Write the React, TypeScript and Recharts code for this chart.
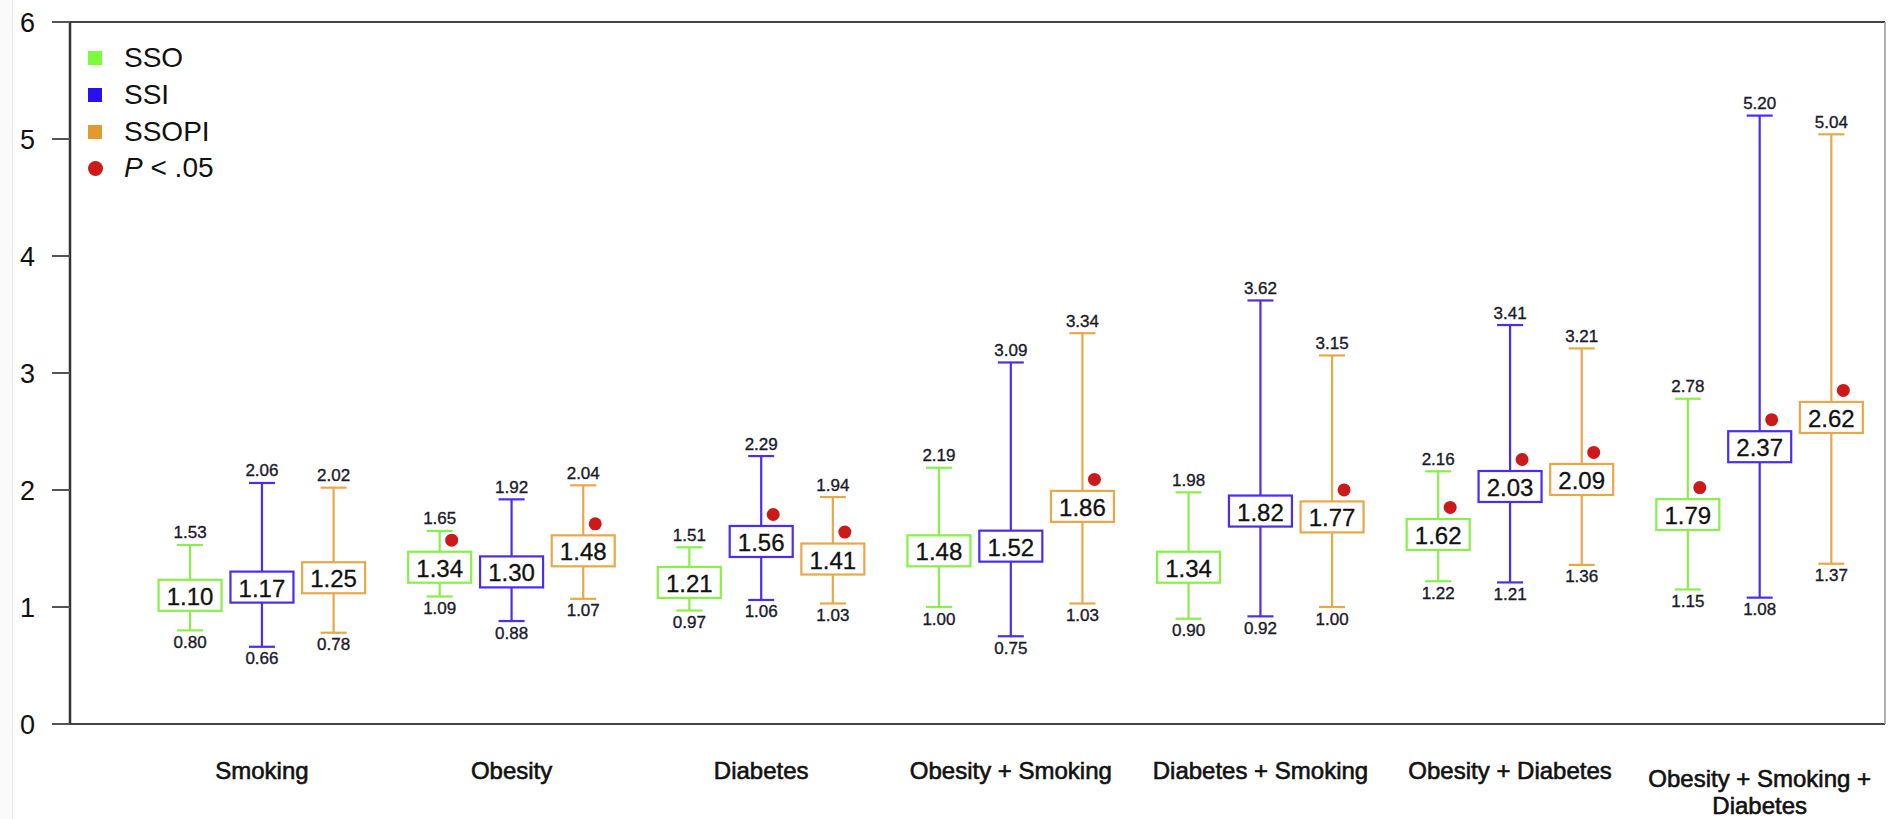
import React from "react";
import {
  ScatterChart,
  Scatter,
  XAxis,
  YAxis,
  ErrorBar,
  ReferenceLine,
  Legend,
} from "recharts";

const FONT = "'Liberation Sans', Arial, Helvetica, sans-serif";

const categories = [
  "Smoking",
  "Obesity",
  "Diabetes",
  "Obesity + Smoking",
  "Diabetes + Smoking",
  "Obesity + Diabetes",
  "Obesity + Smoking + Diabetes",
];

// odds ratio, lower / upper CI, and whether P < .05
const ssoOr = [1.1, 1.34, 1.21, 1.48, 1.34, 1.62, 1.79];
const ssoLow = [0.8, 1.09, 0.97, 1.0, 0.9, 1.22, 1.15];
const ssoHigh = [1.53, 1.65, 1.51, 2.19, 1.98, 2.16, 2.78];
const ssoSig = [false, true, false, false, false, true, true];

const ssiOr = [1.17, 1.3, 1.56, 1.52, 1.82, 2.03, 2.37];
const ssiLow = [0.66, 0.88, 1.06, 0.75, 0.92, 1.21, 1.08];
const ssiHigh = [2.06, 1.92, 2.29, 3.09, 3.62, 3.41, 5.2];
const ssiSig = [false, false, true, false, false, true, true];

const ssopiOr = [1.25, 1.48, 1.41, 1.86, 1.77, 2.09, 2.62];
const ssopiLow = [0.78, 1.07, 1.03, 1.03, 1.0, 1.36, 1.37];
const ssopiHigh = [2.02, 2.04, 1.94, 3.34, 3.15, 3.21, 5.04];
const ssopiSig = [false, true, true, true, true, true, true];

const yTicks = [0, 1, 2, 3, 4, 5, 6];
const xTicks = categories.map((_, i) => i);
const X_MIN = -0.769;
const X_MAX = 6.502;

const series = [
  { name: "SSO", or: ssoOr, low: ssoLow, high: ssoHigh, sig: ssoSig, color: "#88f04a", key: "#7cfa3c", offset: -0.288 },
  { name: "SSI", or: ssiOr, low: ssiLow, high: ssiHigh, sig: ssiSig, color: "#4a2cf5", key: "#2a10f0", offset: 0 },
  { name: "SSOPI", or: ssopiOr, low: ssopiLow, high: ssopiHigh, sig: ssopiSig, color: "#e8a84a", key: "#e09a30", offset: 0.287 },
];

const RED = "#cc1a1a";

const rows = series.map((s) =>
  categories.map((c, i) => ({
    x: i + s.offset,
    y: s.or[i],
    err: [s.or[i] - s.low[i], s.high[i] - s.or[i]],
    category: c,
  }))
);
const highRows = series.map((s) => categories.map((_, i) => ({ x: i + s.offset, y: s.high[i] })));
const lowRows = series.map((s) => categories.map((_, i) => ({ x: i + s.offset, y: s.low[i] })));
const sigRows = series.flatMap((s) =>
  categories
    .map((_, i) => ({ x: i + s.offset, y: s.or[i], sig: s.sig[i] }))
    .filter((d) => d.sig)
);

function makeBox(color: string) {
  return (props: any) => {
    const { cx, cy, payload } = props;
    const w = 63;
    const h = 31;
    return (
      <g>
        <rect x={cx - w / 2} y={cy - h / 2} width={w} height={h} fill="#fff" stroke={color} strokeWidth={2.2} />
        <text
          x={cx}
          y={cy + 1}
          textAnchor="middle"
          dominantBaseline="central"
          fontFamily={FONT}
          fontSize={24}
          fill="#111"
          stroke="#111"
          strokeWidth={0.3}
        >
          {payload.y.toFixed(2)}
        </text>
      </g>
    );
  };
}

function makeCapLabel(dy: number) {
  return (props: any) => {
    const { cx, cy, payload } = props;
    return (
      <text
        x={cx}
        y={cy + dy}
        textAnchor="middle"
        dominantBaseline="central"
        fontFamily={FONT}
        fontSize={17}
        fill="#1a1a2a"
        stroke="#1a1a2a"
        strokeWidth={0.35}
      >
        {payload.y.toFixed(2)}
      </text>
    );
  };
}

const SigDot = (props: any) => {
  const { cx, cy } = props;
  return <circle cx={cx + 12} cy={cy - 27} r={6.5} fill={RED} />;
};

const CategoryTick = (props: any) => {
  const { x, y, payload } = props;
  const label = categories[payload.value];
  const lines = label === "Obesity + Smoking + Diabetes" ? ["Obesity + Smoking +", "Diabetes"] : [label];
  const firstY = lines.length > 1 ? y + 46 : y + 38;
  return (
    <g>
      {lines.map((ln, k) => (
        <text
          key={k}
          x={x}
          y={firstY + k * 27}
          textAnchor="middle"
          dominantBaseline="central"
          fontFamily={FONT}
          fontSize={24}
          fill="#111"
          stroke="#111"
          strokeWidth={0.6}
        >
          {ln}
        </text>
      ))}
    </g>
  );
};

const LegendBox = () => (
  <div style={{ fontFamily: FONT, fontSize: 28, color: "#111" }}>
    {series.map((s) => (
      <div key={s.name} style={{ display: "flex", alignItems: "center", height: 36.7 }}>
        <div style={{ width: 14, height: 14, background: s.key, marginRight: 22 }} />
        <span>{s.name}</span>
      </div>
    ))}
    <div style={{ display: "flex", alignItems: "center", height: 36.7 }}>
      <div style={{ width: 15, height: 15, borderRadius: "50%", background: RED, marginRight: 21 }} />
      <span>
        <i>P</i> &lt; .05
      </span>
    </div>
  </div>
);

export default function App() {
  return (
    <div style={{ position: "absolute", left: 0, top: 0, width: 1888, height: 819, background: "#fff" }}>
      <div
        style={{
          position: "absolute",
          left: 0,
          top: 0,
          width: 12,
          height: 819,
          background: "#fafafa",
          borderRight: "1px solid #e8e8e8",
        }}
      />
      <ScatterChart
        width={1888}
        height={819}
        margin={{ top: 22, right: 3, bottom: 0, left: 0 }}
        style={{ position: "absolute", left: 0, top: 0 }}
      >
        <XAxis
          type="number"
          dataKey="x"
          domain={[X_MIN, X_MAX]}
          allowDataOverflow
          ticks={xTicks}
          interval={0}
          tick={<CategoryTick />}
          axisLine={false}
          tickLine={false}
          height={95}
        />
        <YAxis
          type="number"
          dataKey="y"
          domain={[0, 6]}
          allowDataOverflow
          ticks={yTicks}
          width={70}
          tickSize={18}
          tickMargin={17}
          axisLine={{ stroke: "#333", strokeWidth: 2.5 }}
          tickLine={{ stroke: "#555", strokeWidth: 2 }}
          tick={{ fill: "#111", fontSize: 27, fontFamily: FONT }}
        />
        <ReferenceLine y={6} stroke="#444" strokeWidth={2} />
        <ReferenceLine y={0} stroke="#444" strokeWidth={2} />
        <ReferenceLine x={X_MAX} stroke="#999" strokeWidth={1.5} />
        <Legend
          layout="vertical"
          align="center"
          verticalAlign="middle"
          wrapperStyle={{ left: 88, top: 40, width: 220 }}
          content={() => <LegendBox />}
        />
        {series.map((s, k) => (
          <Scatter
            key={s.name}
            name={s.name}
            data={rows[k]}
            shape={makeBox(s.color)}
            isAnimationActive={false}
          >
            <ErrorBar
              dataKey="err"
              direction="y"
              width={13}
              stroke={s.color}
              strokeWidth={2.2}
              isAnimationActive={false}
            />
          </Scatter>
        ))}
        {series.map((s, k) => (
          <Scatter
            key={s.name + "-hi"}
            data={highRows[k]}
            shape={makeCapLabel(-12)}
            isAnimationActive={false}
            legendType="none"
          />
        ))}
        {series.map((s, k) => (
          <Scatter
            key={s.name + "-lo"}
            data={lowRows[k]}
            shape={makeCapLabel(12)}
            isAnimationActive={false}
            legendType="none"
          />
        ))}
        <Scatter data={sigRows} shape={<SigDot />} isAnimationActive={false} legendType="none" />
      </ScatterChart>
    </div>
  );
}
